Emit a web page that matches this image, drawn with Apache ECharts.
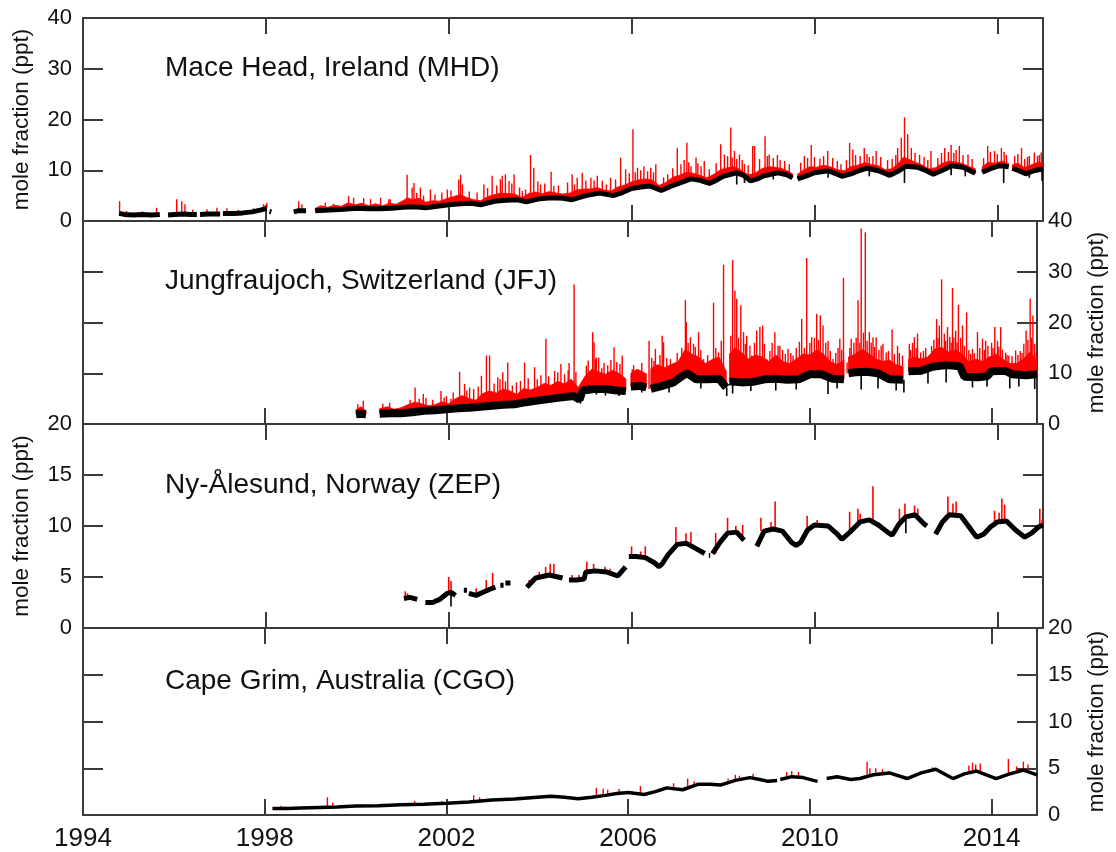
<!DOCTYPE html>
<html><head><meta charset="utf-8">
<script src="https://cdn.jsdelivr.net/npm/echarts@6/dist/echarts.min.js"></script>
<style>html,body{margin:0;padding:0;background:#fff}#c{width:1116px;height:852px}</style>
</head><body><div id="c"></div><script>
// ---------- tick labels / categories ----------
const xTickLabels = [1994, 1998, 2002, 2006, 2010, 2014];
const stationTitles = ['Mace Head, Ireland (MHD)', 'Jungfraujoch, Switzerland (JFJ)', 'Ny-\u00c5lesund, Norway (ZEP)', 'Cape Grim, Australia (CGO)'];
const yAxisName = 'mole fraction (ppt)';
const yMax = [40, 40, 20, 20];
const yStep = [10, 10, 5, 5];

// ---------- MHD ----------
const mhdBase = [[1994.79,1.5],[1994.9,1.3],[1995.1,1.2],[1995.3,1.3],[1995.5,1.2],[1995.68,1.3],[1995.77,'-'],
[1995.86,1.2],[1996.0,1.3],[1996.2,1.4],[1996.35,1.3],[1996.49,1.3],[1996.52,'-'],
[1996.56,1.3],[1996.75,1.4],[1997.0,1.4],[1997.03,'-'],
[1997.06,1.5],[1997.3,1.5],[1997.5,1.6],[1997.7,1.8],[1997.9,2.2],[1998.02,2.5],[1998.06,'-'],
[1998.08,1.9],[1998.12,1.8],[1998.3,'-'],
[1998.61,1.8],[1998.7,2.0],[1998.88,2.0],[1998.98,'-'],
[1999.08,2.0],[1999.3,2.1],[1999.5,2.2],[1999.7,2.3],[2000.0,2.5],[2000.25,2.4],[2000.5,2.4],[2000.75,2.5],[2001.0,2.7],[2001.25,2.8],[2001.5,2.6],[2001.75,2.9],[2002.0,3.2],[2002.25,3.4],[2002.5,3.5],[2002.7,3.2],[2003.0,3.9],[2003.25,4.1],[2003.5,4.2],[2003.7,3.8],[2004.0,4.4],[2004.25,4.6],[2004.5,4.5],[2004.7,4.2],[2005.0,5.0],[2005.3,5.5],[2005.6,5.0],[2005.8,5.6],[2006.0,6.4],[2006.2,6.7],[2006.4,6.9],[2006.65,6.0],[2006.85,6.8],[2007.0,7.3],[2007.3,8.3],[2007.5,8.0],[2007.7,7.4],[2007.85,8.0],[2008.0,8.8],[2008.3,9.5],[2008.45,9.0],[2008.6,7.9],[2008.75,8.3],[2008.9,8.9],[2009.2,9.5],[2009.4,9.1],[2009.52,8.5],[2009.56,'-'],
[2009.63,8.3],[2009.8,8.8],[2010.0,9.5],[2010.3,9.9],[2010.45,9.4],[2010.6,8.8],[2010.8,9.3],[2011.0,10.0],[2011.15,10.4],[2011.4,9.9],[2011.65,9.0],[2011.85,9.9],[2012.0,10.8],[2012.25,10.6],[2012.45,9.9],[2012.6,9.2],[2012.8,10.0],[2013.0,10.9],[2013.25,10.6],[2013.52,9.4],[2013.6,'-'],
[2013.67,9.6],[2013.85,10.3],[2014.05,10.9],[2014.25,10.7],[2014.3,'-'],
[2014.33,10.4],[2014.5,9.8],[2014.62,9.3],[2014.8,9.9],[2015.0,10.3]];
const mhdFuzz = [[1999.08,2.5],[1999.2,3.0],[1999.35,2.7],[1999.5,3.1],[1999.65,2.9],[1999.8,3.6],[1999.95,3.2],[2000.1,3.5],[2000.25,3.0],[2000.4,3.4],[2000.55,3.0],[2000.7,3.5],[2000.85,3.3],[2001.0,4.0],[2001.1,4.6],[2001.2,4.2],[2001.35,4.5],[2001.5,3.7],[2001.65,4.0],[2001.8,3.9],[2001.95,4.4],[2002.1,4.8],[2002.25,5.2],[2002.4,4.6],[2002.55,4.2],[2002.7,4.0],[2002.85,4.8],[2003.0,5.2],[2003.15,5.5],[2003.3,5.4],[2003.45,5.3],[2003.6,4.6],[2003.75,5.4],[2003.9,5.7],[2004.05,5.4],[2004.2,5.8],[2004.35,5.5],[2004.5,5.3],[2004.65,5.5],[2004.8,6.1],[2004.95,6.3],[2005.1,6.3],[2005.25,6.6],[2005.4,6.1],[2005.55,5.9],[2005.7,6.7],[2005.85,7.1],[2006.0,7.7],[2006.15,8.1],[2006.3,8.3],[2006.45,8.1],[2006.6,7.0],[2006.75,7.6],[2006.9,8.6],[2007.05,9.0],[2007.2,9.6],[2007.35,9.4],[2007.5,9.0],[2007.65,8.5],[2007.8,9.2],[2007.95,10.1],[2008.1,10.5],[2008.25,10.7],[2008.4,10.0],[2008.55,9.1],[2008.7,9.4],[2008.85,10.3],[2009.0,10.7],[2009.15,10.6],[2009.3,10.3],[2009.45,9.7],[2009.52,9.3],[2009.56,'-'],
[2009.63,9.2],[2009.75,10.0],[2009.9,10.7],[2010.05,10.6],[2010.2,11.0],[2010.35,10.7],[2010.5,10.1],[2010.65,9.9],[2010.8,10.7],[2010.95,11.0],[2011.1,11.5],[2011.25,11.1],[2011.4,10.9],[2011.55,10.1],[2011.7,10.3],[2011.85,11.5],[2011.95,12.6],[2012.05,12.2],[2012.2,11.6],[2012.35,11.1],[2012.5,10.3],[2012.65,10.5],[2012.8,11.4],[2012.95,11.8],[2013.1,11.6],[2013.25,11.3],[2013.4,10.7],[2013.52,10.3],[2013.6,'-'],
[2013.67,10.7],[2013.8,11.6],[2013.95,11.4],[2014.1,11.8],[2014.25,11.3],[2014.3,'-'],
[2014.33,11.1],[2014.45,11.4],[2014.6,10.5],[2014.75,11.1],[2014.9,11.6],[2015.0,11.3]];
const mhdSpikes = [[1994.80,3.9],[1994.95,2.0],[1995.3,1.9],[1995.61,2.6],[1996.05,4.3],[1996.16,3.9],[1996.23,3.3],[1996.4,2.2],[1996.71,2.3],[1996.93,2.6],[1997.15,2.5],[1997.4,2.2],[1997.73,2.5],[1997.95,3.3],[1998.02,3.6],[1998.72,3.9],[1998.79,3.3],[1999.30,3.6],[1999.48,3.4],[1999.81,4.9],[1999.92,4.6],[2000.14,4.5],[2000.29,4.3],[2000.51,4.6],[2000.69,4.3],[2000.72,4.3],[2001.09,9.1],[2001.20,6.6],[2001.24,7.5],[2001.3,5.5],[2001.38,6.6],[2001.45,5.0],[2001.60,6.2],[2001.7,5.2],[2001.85,5.6],[2001.97,6.2],[2002.05,6.0],[2002.22,8.2],[2002.26,9.1],[2002.30,7.2],[2002.45,5.8],[2002.62,5.6],[2002.77,7.2],[2002.85,6.5],[2002.95,8.9],[2003.05,7.0],[2003.13,8.2],[2003.17,8.9],[2003.24,9.2],[2003.32,7.9],[2003.38,7.4],[2003.43,9.2],[2003.55,6.6],[2003.61,5.9],[2003.68,6.2],[2003.79,13.0],[2003.86,10.5],[2003.95,7.8],[2004.01,7.2],[2004.1,7.4],[2004.24,9.7],[2004.30,6.9],[2004.4,7.0],[2004.6,7.6],[2004.70,9.2],[2004.75,7.2],[2004.81,8.5],[2004.92,9.5],[2005.0,8.0],[2005.11,8.5],[2005.18,8.0],[2005.25,8.9],[2005.36,7.9],[2005.45,7.2],[2005.54,8.5],[2005.65,8.2],[2005.76,12.5],[2005.87,10.2],[2005.95,9.4],[2006.03,18.1],[2006.08,9.6],[2006.13,10.5],[2006.2,10.0],[2006.27,10.8],[2006.35,9.8],[2006.42,10.5],[2006.48,9.6],[2006.53,11.2],[2006.7,8.6],[2006.79,9.2],[2006.9,10.4],[2007.00,14.4],[2007.08,11.2],[2007.15,12.0],[2007.21,15.4],[2007.25,11.6],[2007.30,10.8],[2007.41,12.5],[2007.45,11.4],[2007.52,10.8],[2007.59,11.8],[2007.7,10.2],[2007.85,11.4],[2007.95,15.1],[2008.03,13.1],[2008.1,12.8],[2008.17,18.4],[2008.2,12.5],[2008.25,13.8],[2008.3,12.2],[2008.36,13.1],[2008.42,12.0],[2008.47,11.2],[2008.55,11.0],[2008.65,14.8],[2008.69,14.8],[2008.8,12.2],[2008.92,16.7],[2008.97,12.8],[2009.01,13.1],[2009.1,12.4],[2009.19,13.0],[2009.25,12.0],[2009.35,11.8],[2009.45,11.2],[2009.7,11.5],[2009.78,12.8],[2009.85,12.4],[2009.93,15.0],[2010.0,12.6],[2010.12,12.3],[2010.2,12.8],[2010.29,13.8],[2010.4,12.4],[2010.5,11.8],[2010.58,11.2],[2010.7,12.0],[2010.77,15.4],[2010.84,14.1],[2010.9,13.0],[2011.0,12.8],[2011.09,14.4],[2011.15,13.2],[2011.2,12.6],[2011.28,12.8],[2011.35,13.8],[2011.45,12.6],[2011.6,12.0],[2011.7,12.2],[2011.78,13.0],[2011.82,14.4],[2011.90,16.4],[2011.97,20.4],[2012.04,17.1],[2012.12,14.4],[2012.2,13.4],[2012.3,13.0],[2012.4,12.6],[2012.48,12.0],[2012.55,13.8],[2012.7,12.4],[2012.78,13.4],[2012.85,14.4],[2012.93,13.6],[2012.99,15.0],[2013.05,13.4],[2013.1,14.0],[2013.17,14.8],[2013.25,13.0],[2013.36,13.1],[2013.45,12.2],[2013.7,12.4],[2013.79,14.8],[2013.85,13.6],[2013.94,13.8],[2014.0,13.2],[2014.09,14.4],[2014.15,13.6],[2014.2,13.0],[2014.38,12.8],[2014.45,13.2],[2014.53,14.4],[2014.6,12.2],[2014.66,12.6],[2014.7,12.8],[2014.81,13.5],[2014.88,12.8],[2014.92,13.0],[2014.96,13.5]];
const mhdDips = [[2008.3,7.2],[2008.47,7.5],[2009.1,8.2],[2010.3,8.5],[2011.2,8.8],[2011.97,7.5],[2012.99,9.0],[2013.3,8.8],[2014.14,7.5],[2014.7,8.5],[2014.98,7.9]];

// ---------- JFJ ----------
const jfjBase = [[2000.01,1.9],[2000.12,2.0],[2000.23,1.9],[2000.3,'-'],
[2000.53,2.0],[2000.75,2.1],[2001.0,2.1],[2001.25,2.3],[2001.5,2.6],[2001.75,2.7],[2002.0,2.9],[2002.25,3.1],[2002.5,3.2],[2002.75,3.4],[2003.0,3.6],[2003.25,3.8],[2003.5,3.9],[2003.75,4.3],[2004.0,4.6],[2004.25,4.9],[2004.5,5.2],[2004.8,5.5],[2004.93,4.8],[2005.0,6.6],[2005.25,6.9],[2005.5,6.9],[2005.75,6.6],[2005.95,6.5],[2006.0,'-'],
[2006.06,7.4],[2006.25,7.5],[2006.4,7.2],[2006.45,'-'],
[2006.5,6.9],[2006.75,7.5],[2007.0,8.2],[2007.2,9.5],[2007.3,10.0],[2007.5,8.8],[2007.75,8.8],[2008.0,8.9],[2008.16,7.2],[2008.19,'-'],
[2008.23,8.4],[2008.5,8.2],[2008.75,8.3],[2009.0,8.8],[2009.25,8.9],[2009.5,8.7],[2009.75,8.8],[2010.0,9.8],[2010.25,9.8],[2010.5,8.9],[2010.75,8.8],[2010.8,'-'],
[2010.85,10.0],[2011.0,10.2],[2011.25,10.3],[2011.5,10.0],[2011.75,8.8],[2012.05,8.7],[2012.1,'-'],
[2012.17,10.4],[2012.45,10.5],[2012.7,11.3],[2013.0,11.6],[2013.3,11.4],[2013.4,9.3],[2013.7,9.2],[2013.9,9.4],[2014.0,10.4],[2014.3,10.5],[2014.45,9.8],[2014.75,9.6],[2015.0,9.8]];
const jfjFuzz = [[2000.01,2.8],[2000.12,3.4],[2000.23,2.6],[2000.3,'-'],
[2000.53,3.0],[2000.7,3.4],[2000.85,2.9],[2001.0,3.2],[2001.15,3.8],[2001.3,4.3],[2001.45,4.0],[2001.6,3.6],[2001.75,3.8],[2001.9,4.4],[2002.05,4.0],[2002.2,5.0],[2002.35,5.6],[2002.5,5.0],[2002.65,4.7],[2002.8,6.0],[2002.95,6.5],[2003.1,6.1],[2003.25,6.9],[2003.4,6.5],[2003.55,5.8],[2003.7,7.0],[2003.85,6.7],[2004.0,7.2],[2004.15,8.0],[2004.3,7.6],[2004.45,8.4],[2004.6,7.9],[2004.75,8.8],[2004.9,7.2],[2005.05,9.4],[2005.2,10.8],[2005.35,10.3],[2005.5,9.8],[2005.65,10.6],[2005.8,10.0],[2005.95,8.9],[2006.0,'-'],
[2006.06,10.0],[2006.2,10.8],[2006.4,9.9],[2006.45,'-'],
[2006.5,10.9],[2006.65,11.7],[2006.8,11.1],[2006.95,11.7],[2007.1,12.3],[2007.25,14.6],[2007.4,13.8],[2007.55,13.2],[2007.7,11.9],[2007.85,12.7],[2008.0,13.2],[2008.16,10.4],[2008.19,'-'],
[2008.23,13.8],[2008.35,15.0],[2008.5,14.1],[2008.65,12.8],[2008.8,13.6],[2008.95,13.2],[2009.1,12.3],[2009.25,13.6],[2009.4,12.3],[2009.55,11.9],[2009.7,12.8],[2009.85,13.8],[2010.0,13.6],[2010.15,14.6],[2010.3,13.8],[2010.45,12.3],[2010.6,11.7],[2010.75,12.6],[2010.8,'-'],
[2010.85,13.2],[2011.0,13.8],[2011.15,14.7],[2011.3,13.8],[2011.45,12.8],[2011.6,12.3],[2011.75,12.6],[2011.9,11.7],[2012.05,11.3],[2012.1,'-'],
[2012.17,12.7],[2012.3,13.2],[2012.45,12.8],[2012.6,13.2],[2012.75,14.8],[2012.9,15.1],[2013.05,14.2],[2013.2,14.6],[2013.35,13.8],[2013.5,12.3],[2013.65,12.8],[2013.8,12.3],[2013.95,13.2],[2014.1,13.8],[2014.25,12.8],[2014.4,11.9],[2014.55,11.9],[2014.7,12.8],[2014.85,14.2],[2015.0,12.3]];
const jfjSpikes = [[2000.05,3.9],[2000.17,4.6],[2000.6,4.0],[2000.75,4.2],[2001.2,4.8],[2001.31,7.2],[2001.4,5.0],[2001.49,5.9],[2001.55,5.1],[2001.7,4.8],[2001.88,6.5],[2001.95,5.2],[2002.0,5.5],[2002.1,5.0],[2002.15,6.2],[2002.29,10.3],[2002.4,7.9],[2002.45,6.6],[2002.51,7.2],[2002.6,6.9],[2002.7,7.4],[2002.77,9.5],[2002.88,13.5],[2002.95,13.5],[2003.05,8.0],[2003.13,9.2],[2003.18,8.8],[2003.24,10.2],[2003.3,8.4],[2003.35,12.1],[2003.45,7.6],[2003.54,8.2],[2003.63,8.5],[2003.72,12.1],[2003.8,9.0],[2003.94,11.2],[2004.0,8.8],[2004.08,9.6],[2004.19,16.8],[2004.25,9.4],[2004.38,10.5],[2004.45,10.2],[2004.52,11.8],[2004.6,9.8],[2004.68,10.6],[2004.7,12.0],[2004.81,27.5],[2004.85,10.2],[2005.08,11.5],[2005.12,12.5],[2005.22,18.1],[2005.25,16.1],[2005.28,12.8],[2005.3,13.1],[2005.35,13.1],[2005.42,11.0],[2005.47,12.0],[2005.55,11.6],[2005.62,12.6],[2005.69,15.1],[2005.75,12.2],[2005.82,11.8],[2005.87,13.5],[2006.09,10.8],[2006.12,11.6],[2006.2,9.5],[2006.3,12.0],[2006.46,16.4],[2006.52,13.0],[2006.57,12.4],[2006.6,14.8],[2006.7,13.6],[2006.75,17.4],[2006.78,16.1],[2006.85,13.0],[2006.93,12.8],[2007.03,10.8],[2007.08,14.0],[2007.18,15.0],[2007.26,24.4],[2007.28,20.1],[2007.32,16.0],[2007.37,17.1],[2007.44,15.8],[2007.48,15.2],[2007.55,18.1],[2007.6,14.6],[2007.66,12.8],[2007.75,13.6],[2007.88,23.9],[2007.93,15.0],[2007.99,14.1],[2008.05,16.4],[2008.10,31.4],[2008.26,17.4],[2008.30,32.3],[2008.35,26.3],[2008.39,24.7],[2008.43,17.0],[2008.48,23.4],[2008.54,18.1],[2008.58,15.8],[2008.61,17.4],[2008.68,15.4],[2008.72,13.5],[2008.78,16.0],[2008.83,18.4],[2008.90,19.1],[2008.96,19.4],[2009.0,15.8],[2009.05,12.8],[2009.12,14.4],[2009.17,16.0],[2009.23,18.1],[2009.3,15.4],[2009.34,15.4],[2009.4,14.6],[2009.46,13.8],[2009.52,14.8],[2009.58,14.0],[2009.63,13.5],[2009.7,15.0],[2009.77,16.2],[2009.82,20.7],[2009.88,15.0],[2009.93,32.7],[2010.0,16.0],[2010.04,17.1],[2010.1,17.0],[2010.15,21.7],[2010.19,16.6],[2010.23,21.4],[2010.29,19.4],[2010.35,16.0],[2010.40,16.4],[2010.45,14.4],[2010.51,12.8],[2010.57,14.0],[2010.62,15.0],[2010.66,16.8],[2010.7,14.6],[2010.74,28.8],[2010.82,12.1],[2010.88,15.0],[2010.91,16.8],[2010.97,16.0],[2011.02,17.0],[2011.06,24.4],[2011.1,16.0],[2011.13,38.5],[2011.18,18.0],[2011.22,37.8],[2011.26,16.4],[2011.31,18.1],[2011.35,16.0],[2011.39,17.1],[2011.42,15.2],[2011.46,17.1],[2011.52,14.6],[2011.57,15.4],[2011.61,15.8],[2011.68,14.1],[2011.73,14.4],[2011.81,18.6],[2011.86,13.8],[2011.93,15.4],[2011.97,14.0],[2012.04,13.5],[2012.19,15.8],[2012.22,14.6],[2012.26,16.0],[2012.30,17.1],[2012.34,15.0],[2012.37,17.8],[2012.44,14.1],[2012.5,14.4],[2012.55,15.0],[2012.63,13.5],[2012.68,15.4],[2012.73,16.6],[2012.79,20.7],[2012.82,17.0],[2012.85,19.4],[2012.90,28.5],[2012.96,17.8],[2012.99,16.4],[2013.03,19.1],[2013.08,17.2],[2013.11,16.0],[2013.14,26.8],[2013.17,17.0],[2013.21,18.4],[2013.24,16.0],[2013.27,23.5],[2013.32,17.0],[2013.36,19.4],[2013.4,15.4],[2013.45,22.0],[2013.5,14.6],[2013.54,13.8],[2013.58,14.8],[2013.62,14.0],[2013.69,18.1],[2013.74,15.0],[2013.80,16.8],[2013.84,14.6],[2013.87,16.4],[2013.92,15.4],[2014.0,16.0],[2014.03,15.0],[2014.07,19.1],[2014.13,16.4],[2014.16,15.2],[2014.20,19.1],[2014.24,14.6],[2014.31,14.1],[2014.34,13.6],[2014.38,13.5],[2014.45,13.4],[2014.53,14.5],[2014.58,13.6],[2014.63,14.4],[2014.67,14.0],[2014.71,15.8],[2014.76,18.4],[2014.8,16.6],[2014.85,24.7],[2014.88,17.0],[2014.91,21.4],[2014.95,15.8],[2014.98,14.0]];
const jfjDips = [[2004.95,4.0],[2005.3,5.8],[2005.5,5.6],[2005.8,5.5],[2006.3,6.2],[2006.9,6.2],[2007.6,7.0],[2008.17,5.5],[2008.3,6.0],[2008.7,6.5],[2009.25,6.6],[2009.7,6.8],[2010.4,5.9],[2010.6,7.0],[2011.13,6.8],[2011.5,7.0],[2011.9,6.6],[2012.07,6.2],[2012.6,8.0],[2013.0,8.2],[2013.58,7.2],[2013.9,7.4],[2014.4,7.0],[2014.6,7.4],[2014.95,6.9]];

// ---------- ZEP ----------
const zepBase = [[2001.02,2.9],[2001.15,3.0],[2001.31,2.8],[2001.4,'-'],
[2001.49,2.5],[2001.65,2.5],[2001.8,2.8],[2001.97,3.4],[2002.05,3.5],[2002.15,3.2],[2002.25,'-'],
[2002.33,3.7],[2002.4,3.7],[2002.42,'-'],
[2002.44,3.4],[2002.6,3.2],[2002.75,3.5],[2002.9,3.8],[2003.02,4.0],[2003.08,'-'],
[2003.13,4.2],[2003.2,4.2],[2003.22,'-'],[2003.24,4.4],[2003.35,4.4],[2003.5,'-'],
[2003.71,4.0],[2003.9,4.9],[2004.2,5.2],[2004.49,4.9],[2004.56,'-'],
[2004.63,4.7],[2004.8,4.7],[2004.96,4.8],[2005.0,5.5],[2005.2,5.6],[2005.45,5.5],[2005.7,5.1],[2005.87,6.0],[2005.9,'-'],
[2005.94,7.0],[2006.1,7.0],[2006.3,6.9],[2006.5,6.4],[2006.6,6.0],[2006.67,6.3],[2006.8,7.2],[2007.0,8.2],[2007.2,8.3],[2007.4,7.8],[2007.6,7.3],[2007.65,'-'],
[2007.69,7.1],[2007.72,7.1],[2007.74,'-'],
[2007.77,7.3],[2007.95,8.5],[2008.1,9.3],[2008.3,9.4],[2008.46,8.6],[2008.5,'-'],
[2008.74,8.0],[2008.9,9.5],[2009.1,9.7],[2009.3,9.5],[2009.5,8.4],[2009.6,8.1],[2009.7,8.4],[2009.85,9.6],[2010.0,10.1],[2010.3,10.0],[2010.5,9.2],[2010.6,8.7],[2010.8,9.5],[2011.0,10.4],[2011.2,10.6],[2011.4,10.1],[2011.6,9.4],[2011.7,9.1],[2011.85,10.2],[2012.0,10.9],[2012.2,11.1],[2012.4,10.2],[2012.46,10.0],[2012.55,'-'],
[2012.65,9.2],[2012.8,10.4],[2012.95,11.1],[2013.2,11.0],[2013.4,9.8],[2013.55,8.9],[2013.7,9.2],[2013.85,9.9],[2014.0,10.4],[2014.2,10.5],[2014.4,9.6],[2014.6,8.9],[2014.75,9.3],[2014.9,9.9],[2015.0,10.1]];
const zepSpikes = [[2001.05,3.6],[2001.1,3.4],[2001.7,2.9],[2001.9,3.4],[2002.0,5.0],[2002.05,4.6],[2002.6,3.9],[2002.82,4.7],[2002.96,5.4],[2003.76,4.7],[2003.98,5.5],[2004.12,6.0],[2004.22,6.3],[2004.3,6.3],[2004.7,5.2],[2004.85,5.2],[2005.02,6.5],[2005.17,6.3],[2005.42,6.0],[2005.53,5.8],[2006.0,8.0],[2006.2,7.5],[2006.3,8.0],[2006.97,9.9],[2007.19,9.3],[2007.3,9.4],[2007.84,9.3],[2008.1,10.8],[2008.28,10.0],[2008.43,10.1],[2008.83,10.8],[2009.05,10.4],[2009.14,12.4],[2009.84,11.0],[2010.06,10.6],[2010.77,11.4],[2010.95,11.7],[2011.0,11.2],[2011.28,13.9],[2011.86,11.7],[2011.98,12.2],[2012.19,12.0],[2012.26,11.7],[2012.85,11.0],[2012.92,12.9],[2013.03,12.2],[2013.1,12.4],[2013.94,11.5],[2014.04,11.3],[2014.1,12.7],[2014.16,12.1],[2014.93,11.7],[2014.98,10.6]];
const zepDips = [[2002.05,2.1],[2012.0,9.3]];

// ---------- CGO ----------
const cgoBase = [[1998.17,0.7],[1998.5,0.7],[1998.8,0.75],[1999.2,0.8],[1999.6,0.85],[2000.0,0.95],[2000.5,1.0],[2001.0,1.1],[2001.5,1.15],[2002.0,1.25],[2002.5,1.4],[2003.0,1.6],[2003.5,1.7],[2004.0,1.9],[2004.3,2.0],[2004.6,1.9],[2004.9,1.75],[2005.2,1.9],[2005.5,2.1],[2005.75,2.3],[2006.0,2.4],[2006.35,2.2],[2006.6,2.5],[2006.85,2.9],[2007.2,2.7],[2007.55,3.3],[2007.8,3.3],[2008.03,3.2],[2008.36,3.7],[2008.68,4.0],[2008.9,3.8],[2009.08,3.6],[2009.28,3.7],[2009.31,'-'],
[2009.35,3.8],[2009.6,4.1],[2009.85,4.0],[2010.08,3.7],[2010.17,3.6],[2010.2,'-'],
[2010.37,3.9],[2010.6,4.1],[2010.9,3.8],[2011.1,3.9],[2011.4,4.3],[2011.75,4.5],[2012.14,3.9],[2012.45,4.5],[2012.77,4.9],[2013.15,3.9],[2013.4,4.4],[2013.67,4.7],[2014.1,3.9],[2014.4,4.4],[2014.7,4.8],[2015.0,4.3]];
const cgoSpikes = [[1998.36,1.0],[1998.45,0.9],[1999.38,1.9],[1999.5,1.3],[2000.6,1.2],[2001.3,1.5],[2001.9,1.5],[2002.6,2.1],[2002.73,1.9],[2005.3,2.9],[2005.45,2.8],[2005.55,2.7],[2005.8,2.8],[2006.27,3.1],[2007.0,3.4],[2007.31,3.9],[2007.45,3.6],[2008.2,3.9],[2008.36,4.3],[2008.45,4.2],[2008.75,4.4],[2009.49,4.6],[2009.6,4.7],[2009.75,4.6],[2011.26,5.7],[2011.32,5.0],[2011.45,5.0],[2011.6,4.9],[2012.7,5.1],[2012.8,5.0],[2013.5,5.3],[2013.58,5.6],[2013.65,5.4],[2013.75,5.5],[2014.37,6.0],[2014.55,5.2],[2014.7,5.7],[2014.8,5.4]];

// ---------- helpers ----------
const RED = '#ff0000';
const FONT = 'Liberation Sans, Arial, Helvetica, sans-serif';
function nearestBase(base, t) {
  let best = null, bd = 1e9;
  for (const p of base) { if (p[1] === '-') continue; const d = Math.abs(p[0] - t); if (d < bd) { bd = d; best = p[1]; } }
  return best;
}
function splitSegs(arr) {
  const segs = []; let cur = [];
  for (const p of arr) { if (p[1] === '-') { if (cur.length) segs.push(cur); cur = []; } else cur.push(p); }
  if (cur.length) segs.push(cur);
  return segs;
}
function fuzzPolys(fuzz, base) {
  return splitSegs(fuzz).map(seg => {
    const t0 = seg[0][0], t1 = seg[seg.length - 1][0];
    const bot = [[t0, nearestBase(base, t0)]];
    base.forEach(p => { if (p[1] !== '-' && p[0] > t0 + 1e-6 && p[0] < t1 - 1e-6) bot.push(p); });
    bot.push([t1, nearestBase(base, t1)]);
    return { top: seg, bot: bot };
  });
}

const grids = [{top: 18, height: 203}, {top: 221, height: 203}, {top: 424, height: 204}, {top: 628, height: 194}];
const labelRight = [false, true, false, true];
const stations = [
  {base: mhdBase, fuzz: mhdFuzz, spikes: mhdSpikes, dips: mhdDips, w: 5, sw: 1.4},
  {base: jfjBase, fuzz: jfjFuzz, spikes: jfjSpikes, dips: jfjDips, w: 8, sw: 1.4},
  {base: zepBase, fuzz: null, spikes: zepSpikes, dips: zepDips, w: 5, sw: 1.6},
  {base: cgoBase, fuzz: null, spikes: cgoSpikes, dips: [], w: 3.5, sw: 1.4}
];

const axisCol = '#3a3a3a';
const option = {animation: false, backgroundColor: '#fff', grid: [], xAxis: [], yAxis: [], series: [], graphic: []};
grids.forEach((g, i) => {
  option.grid.push({left: 83, right: 73, top: g.top, height: g.height, containLabel: false});
  const isBottom = i === 3;
  ['bottom', 'top'].forEach(pos => {
    option.xAxis.push({
      type: 'value', gridIndex: i, position: pos, min: 1994, max: 2015, interval: 4,
      axisLine: {show: true, onZero: false, lineStyle: {color: axisCol, width: 2}},
      axisTick: {show: true, inside: true, length: 16, lineStyle: {color: axisCol, width: 2}},
      splitLine: {show: false},
      axisLabel: {show: isBottom && pos === 'bottom', fontSize: 26, color: '#111', fontFamily: FONT, margin: 11,
        formatter: v => xTickLabels.indexOf(v) >= 0 ? String(v) : ''}
    });
  });
  ['left', 'right'].forEach(pos => {
    const showLab = (pos === 'right') === labelRight[i];
    option.yAxis.push({
      type: 'value', gridIndex: i, position: pos, min: 0, max: yMax[i], interval: yStep[i],
      axisLine: {show: true, onZero: false, lineStyle: {color: axisCol, width: 2}},
      axisTick: {show: true, inside: true, length: 20, lineStyle: {color: axisCol, width: 2}},
      splitLine: {show: false},
      axisLabel: {show: showLab, fontSize: 22, color: '#111', fontFamily: FONT, margin: 11},
      name: showLab ? yAxisName : '', nameLocation: 'middle', nameRotate: 90, nameGap: pos === 'left' ? 50 : 48,
      nameTextStyle: {fontSize: 22.5, color: '#111', fontFamily: FONT}
    });
  });
  const st = stations[i];
  const xi = i * 2, yi = i * 2;
  if (st.fuzz) {
    const polys = fuzzPolys(st.fuzz, st.base);
    option.series.push({
      type: 'custom', xAxisIndex: xi, yAxisIndex: yi, z: 1, silent: true,
      data: polys.map((p, k) => [p.top[0][0], p.top[0][1], k]),
      encode: {x: 0, y: 1},
      renderItem: (params, api) => {
        const p = polys[api.value(2)];
        const pts = p.top.map(q => api.coord(q)).concat(p.bot.slice().reverse().map(q => api.coord(q)));
        return {type: 'polygon', shape: {points: pts}, style: {fill: RED, stroke: RED, lineWidth: 0.8}};
      }
    });
  }
  option.series.push({
    type: 'custom', xAxisIndex: xi, yAxisIndex: yi, z: 2, silent: true,
    data: st.spikes.map(s => [s[0], nearestBase(st.base, s[0]), s[1]]),
    encode: {x: 0, y: [1, 2]},
    renderItem: (params, api) => {
      const a = api.coord([api.value(0), api.value(1)]), b = api.coord([api.value(0), api.value(2)]);
      return {type: 'line', shape: {x1: a[0], y1: a[1], x2: b[0], y2: b[1]}, style: {stroke: RED, lineWidth: st.sw}};
    }
  });
  option.series.push({
    type: 'custom', xAxisIndex: xi, yAxisIndex: yi, z: 4, silent: true,
    data: st.dips.map(s => [s[0], nearestBase(st.base, s[0]), s[1]]),
    encode: {x: 0, y: [1, 2]},
    renderItem: (params, api) => {
      const a = api.coord([api.value(0), api.value(1)]), b = api.coord([api.value(0), api.value(2)]);
      return {type: 'line', shape: {x1: a[0], y1: a[1], x2: b[0], y2: b[1]}, style: {stroke: '#000', lineWidth: 1.6}};
    }
  });
  option.series.push({
    type: 'line', xAxisIndex: xi, yAxisIndex: yi, z: 3, silent: true, data: st.base,
    showSymbol: false, connectNulls: false, lineStyle: {color: '#000', width: st.w}, itemStyle: {color: '#000'}
  });
});
const titleY = [68, 281, 485, 681];
stationTitles.forEach((t, i) => {
  option.graphic.push({type: 'text', x: 165, y: titleY[i], z: 10,
    style: {text: t, fontSize: 28, fontFamily: FONT, fill: '#111', verticalAlign: 'middle', align: 'left'}});
});
const chart = echarts.init(document.getElementById('c'), null, {renderer: 'canvas'});
chart.setOption(option);
</script></body></html>
